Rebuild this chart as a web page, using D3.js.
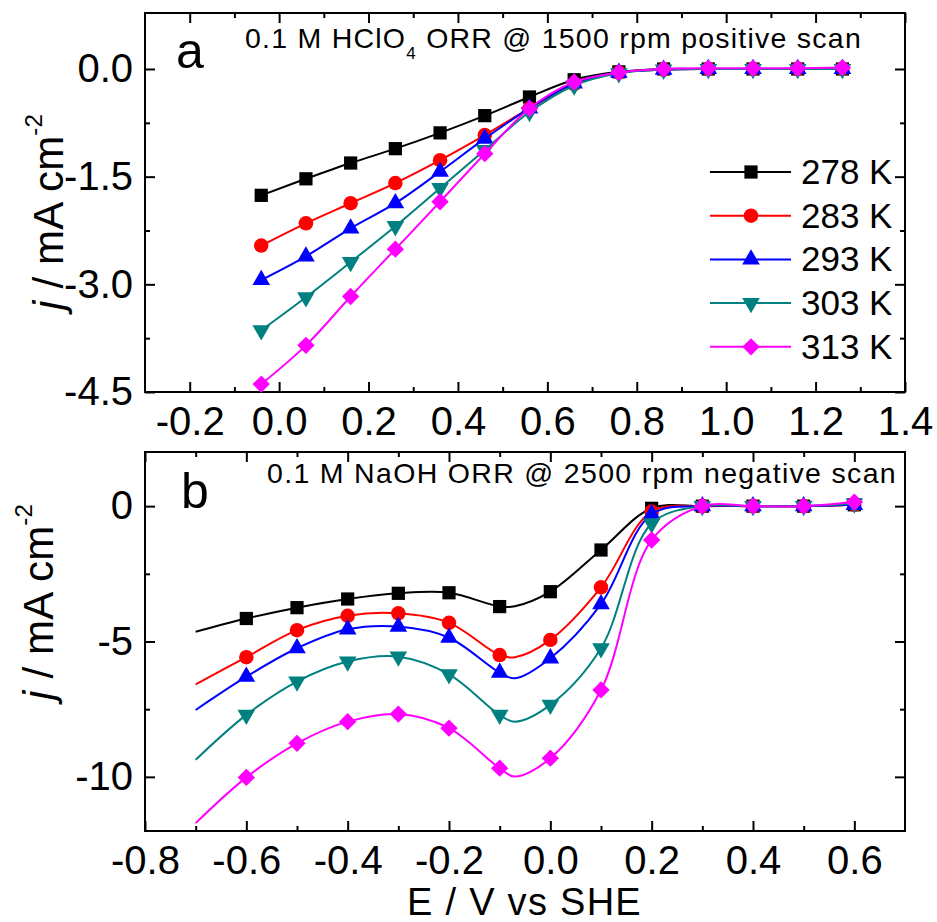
<!DOCTYPE html>
<html>
<head>
<meta charset="utf-8">
<script src="https://cdn.jsdelivr.net/npm/d3@7"></script>
<style>
  body { margin: 0; background: #fff; }
  text { font-family: 'Liberation Sans', Arial, sans-serif; }
</style>
</head>
<body>
<div id="container"></div>
<script>
// series labels
const temps = ['278 K', '283 K', '293 K', '303 K', '313 K'];

// panel a: 0.1 M HClO4, positive scan
const aX = [-0.04, 0.06, 0.16, 0.26, 0.36, 0.46, 0.56, 0.66, 0.76, 0.86, 0.96, 1.06, 1.16, 1.26];
const a278 = [-1.76, -1.53, -1.31, -1.11, -0.89, -0.65, -0.39, -0.15, -0.04, 0, 0, 0, 0, 0];
const a283 = [-2.46, -2.15, -1.87, -1.59, -1.27, -0.92, -0.55, -0.21, -0.05, -0.01, 0, 0, 0, 0];
const a293 = [-2.94, -2.61, -2.22, -1.87, -1.43, -0.97, -0.55, -0.2, -0.05, -0.01, 0, 0, 0, 0];
const a303 = [-3.64, -3.18, -2.69, -2.19, -1.66, -1.13, -0.6, -0.23, -0.06, -0.01, 0, 0, 0, 0];
const a313 = [-4.39, -3.85, -3.17, -2.51, -1.85, -1.18, -0.55, -0.18, -0.05, 0, 0.01, 0.01, 0.01, 0.02];

// panel b: 0.1 M NaOH, negative scan (-0.7 and -0.07 are curve points without marker)
const bX = [-0.7, -0.6, -0.5, -0.4, -0.3, -0.2, -0.1, -0.07, 0.0, 0.1, 0.2, 0.3, 0.4, 0.5, 0.6];
const bMarkX = [-0.6, -0.5, -0.4, -0.3, -0.2, -0.1, 0.0, 0.1, 0.2, 0.3, 0.4, 0.5, 0.6];
const b278 = [-4.64, -4.15, -3.75, -3.43, -3.22, -3.2, -3.71, -3.7, -3.16, -1.62, -0.08, 0, 0, 0, 0.05];
const b283 = [-6.58, -5.58, -4.58, -4.05, -3.96, -4.31, -5.5, -5.58, -4.94, -3.0, -0.2, 0, 0, 0, 0.05];
const b293 = [-7.53, -6.3, -5.25, -4.55, -4.45, -4.86, -6.15, -6.36, -5.62, -3.62, -0.3, 0, 0, 0, 0.05];
const b303 = [-9.37, -7.71, -6.48, -5.74, -5.56, -6.21, -7.71, -7.96, -7.34, -5.25, -0.64, 0, 0, 0, 0.1];
const b313 = [-11.71, -10.02, -8.76, -7.96, -7.68, -8.2, -9.68, -9.99, -9.31, -6.79, -1.25, 0, 0, 0, 0.15];

// ticks
const aXTicks = [-0.2, 0, 0.2, 0.4, 0.6, 0.8, 1.0, 1.2, 1.4];
const aXMinor = [-0.1, 0.1, 0.3, 0.5, 0.7, 0.9, 1.1, 1.3];
const aYTicks = [0, -1.5, -3.0, -4.5];
const aYMinor = [-0.75, -2.25, -3.75];
const bXTicks = [-0.8, -0.6, -0.4, -0.2, 0, 0.2, 0.4, 0.6];
const bXMinor = [-0.7, -0.5, -0.3, -0.1, 0.1, 0.3, 0.5];
const bYTicks = [0, -5, -10];
const bYMinor = [-2.5, -7.5];

const colors = ['#000000', '#ff0000', '#0000ff', '#008080', '#ff00ff'];
const shapes = ['square', 'circle', 'triangle', 'triangleDown', 'diamond'];

const W = 937;
const H = 922;
const FONT = "'Liberation Sans', Arial, sans-serif";

const svg = d3
  .select('#container')
  .append('svg')
  .attr('width', W)
  .attr('height', H);

svg.append('rect').attr('width', W).attr('height', H).attr('fill', '#fff');

function drawMarker(sel, shape, color, tr) {
  let path;
  let rot = 0;
  if (shape === 'square') path = d3.symbol(d3.symbolSquare, 175)();
  if (shape === 'circle') path = d3.symbol(d3.symbolCircle, 165)();
  if (shape === 'triangle') path = d3.symbol(d3.symbolTriangle, 135)();
  if (shape === 'triangleDown') { path = d3.symbol(d3.symbolTriangle, 135)(); rot = 180; }
  if (shape === 'diamond') { path = d3.symbol(d3.symbolSquare, 150)(); rot = 45; }
  sel.append('path').attr('d', path).attr('fill', color)
    .attr('transform', `${tr} rotate(${rot})`);
}

function fitText(t, target) {
  const n = t.text().length;
  const w = t.node().getComputedTextLength();
  t.attr('letter-spacing', (target - w) / n);
}

function axes(g, x, y, xt, xm, yt, ym, xf, yf) {
  const [x0, x1] = x.range();
  const [y0, y1] = y.range();
  const clean = s => s.select('.domain').remove();
  const style = s => s.selectAll('line').attr('stroke', '#000').attr('stroke-width', 2);

  g.append('g').attr('transform', `translate(0,${y0})`)
    .call(d3.axisBottom(x).tickValues(xt).tickSizeInner(-10).tickSizeOuter(0).tickPadding(15).tickFormat(xf))
    .call(clean).call(style)
    .attr('font-size', 40).attr('font-family', FONT);
  g.append('g').attr('transform', `translate(0,${y0})`)
    .call(d3.axisBottom(x).tickValues(xm).tickSizeInner(-5).tickSizeOuter(0).tickFormat(''))
    .call(clean).call(style);
  g.append('g').attr('transform', `translate(0,${y1})`)
    .call(d3.axisTop(x).tickValues(xt).tickSizeInner(-10).tickSizeOuter(0).tickFormat(''))
    .call(clean).call(style);
  g.append('g').attr('transform', `translate(0,${y1})`)
    .call(d3.axisTop(x).tickValues(xm).tickSizeInner(-5).tickSizeOuter(0).tickFormat(''))
    .call(clean).call(style);

  g.append('g').attr('transform', `translate(${x0},0)`)
    .call(d3.axisLeft(y).tickValues(yt).tickSizeInner(-10).tickSizeOuter(0).tickPadding(12).tickFormat(yf))
    .call(clean).call(style)
    .attr('font-size', 40).attr('font-family', FONT);
  g.append('g').attr('transform', `translate(${x0},0)`)
    .call(d3.axisLeft(y).tickValues(ym).tickSizeInner(-5).tickSizeOuter(0).tickFormat(''))
    .call(clean).call(style);
  g.append('g').attr('transform', `translate(${x1},0)`)
    .call(d3.axisRight(y).tickValues(yt).tickSizeInner(-10).tickSizeOuter(0).tickFormat(''))
    .call(clean).call(style);
  g.append('g').attr('transform', `translate(${x1},0)`)
    .call(d3.axisRight(y).tickValues(ym).tickSizeInner(-5).tickSizeOuter(0).tickFormat(''))
    .call(clean).call(style);

  g.append('rect')
    .attr('x', x0).attr('y', y1)
    .attr('width', x1 - x0).attr('height', y0 - y1)
    .attr('fill', 'none').attr('stroke', '#000').attr('stroke-width', 2);
}

function drawSeries(g, x, y, xs, series, markX) {
  const line = d3.line()
    .x(d => x(d[0]))
    .y(d => y(d[1]))
    .curve(d3.curveCatmullRom.alpha(0.5));
  series.forEach((vals, i) => {
    const pts = xs.map((v, k) => [v, vals[k]]);
    g.append('path')
      .attr('d', line(pts))
      .attr('fill', 'none')
      .attr('stroke', colors[i])
      .attr('stroke-width', 2);
    pts
      .filter(p => markX.some(m => Math.abs(m - p[0]) < 1e-9))
      .forEach(p => drawMarker(g, shapes[i], colors[i], `translate(${x(p[0])},${y(p[1])})`));
  });
}

function yLabel(g, tx, ty) {
  const t = g.append('text')
    .attr('transform', `translate(${tx},${ty}) rotate(-90)`)
    .attr('text-anchor', 'middle')
    .attr('font-size', 42);
  t.append('tspan').attr('font-style', 'italic').text('j');
  t.append('tspan').text(' / mA cm');
  t.append('tspan').attr('dy', -21).attr('font-size', 24).text('-2');
  fitText(t, 196);
}

// ---------- panel a ----------
const xA = d3.scaleLinear().domain([-0.3, 1.4]).range([145, 905]);
const yA = d3.scaleLinear().domain([-4.5, 0.78]).range([392, 13]);
const gA = svg.append('g');
axes(gA, xA, yA, aXTicks, aXMinor, aYTicks, aYMinor, d => d.toFixed(1), d => d.toFixed(1));
drawSeries(gA, xA, yA, aX, [a278, a283, a293, a303, a313], aX);

// legend
temps.forEach((t, i) => {
  const ly = 172 + i * 43.7;
  gA.append('line')
    .attr('x1', 710).attr('x2', 791).attr('y1', ly).attr('y2', ly)
    .attr('stroke', colors[i]).attr('stroke-width', 2);
  drawMarker(gA, shapes[i], colors[i], `translate(751,${ly})`);
  gA.append('text')
    .attr('x', 801).attr('y', ly + 12)
    .attr('font-size', 35)
    .text(t);
});

gA.append('text').attr('x', 176).attr('y', 68).attr('font-size', 50).text('a');
const tA = gA.append('text').attr('x', 245).attr('y', 48).attr('font-size', 28.5);
tA.append('tspan').text('0.1 M HClO');
tA.append('tspan').attr('dy', 11).attr('font-size', 17).text('4');
tA.append('tspan').attr('dy', -11).text(' ORR @ 1500 rpm positive scan');
fitText(tA, 617);

yLabel(gA, 63, 212);

// ---------- panel b ----------
const xB = d3.scaleLinear().domain([-0.8, 0.7]).range([145, 905]);
const yB = d3.scaleLinear().domain([-12, 2]).range([831, 452]);
const gB = svg.append('g');
axes(gB, xB, yB, bXTicks, bXMinor, bYTicks, bYMinor, d => d.toFixed(1), d => String(d));
drawSeries(gB, xB, yB, bX, [b278, b283, b293, b303, b313], bMarkX);

gB.append('text').attr('x', 181).attr('y', 508).attr('font-size', 50).text('b');
const tB = gB.append('text').attr('x', 267).attr('y', 483).attr('font-size', 28.5)
  .text('0.1 M NaOH ORR @ 2500 rpm negative scan');
fitText(tB, 630);

yLabel(gB, 53, 602);

const xl = svg.append('text')
  .attr('x', 407).attr('y', 915)
  .attr('font-size', 38)
  .text('E / V vs SHE');
fitText(xl, 235);
</script>
</body>
</html>
